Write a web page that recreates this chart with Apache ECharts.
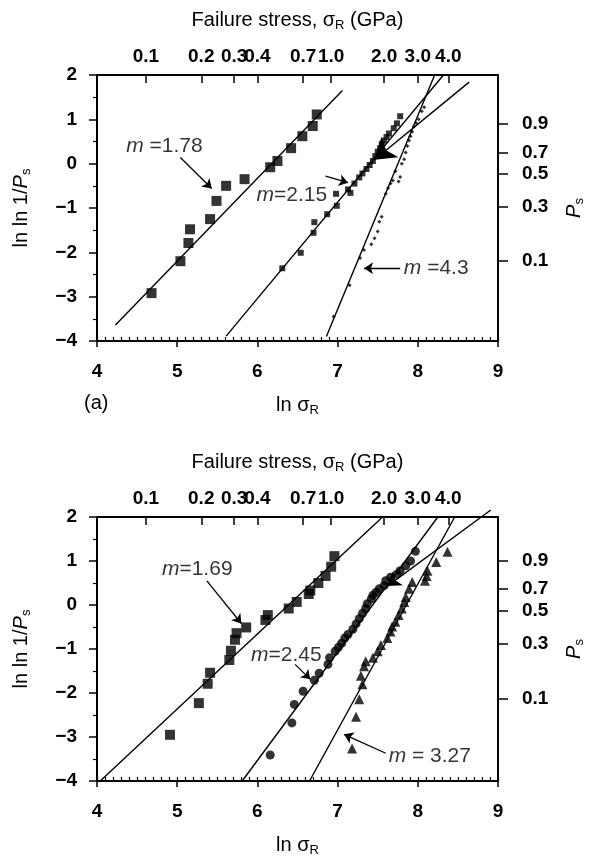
<!DOCTYPE html>
<html><head><meta charset="utf-8">
<script src="https://cdn.jsdelivr.net/npm/echarts@6/dist/echarts.min.js"></script>
<style>html,body{margin:0;padding:0;background:#fff}#c{width:594px;height:858px}</style>
</head><body><div id="c"></div>
<script>
// ---------- tick labels ----------
const xTicks = [4, 5, 6, 7, 8, 9];
const yTicks = [-4, -3, -2, -1, 0, 1, 2];
const gpaTicks = [0.1, 0.2, 0.3, 0.4, 0.7, 1.0, 2.0, 3.0, 4.0];   // GPa
const gpaPos = [4.61, 5.30, 5.71, 6.00, 6.57, 6.92, 7.58, 8.00, 8.38]; // ln σR position of each GPa tick
const psTicks = [0.9, 0.7, 0.5, 0.3, 0.1];
const psPosTop = [0.91, 0.25, -0.23, -0.97, -2.20];   // ln ln 1/Ps position of each Ps tick
const psPosBottom = [1.00, 0.37, -0.14, -0.89, -2.13];

// ---------- panel (a) data ----------
const topSquares = [[4.68,-2.92],[5.04,-2.20],[5.14,-1.79],[5.16,-1.48],[5.41,-1.25],[5.49,-0.84],[5.61,-0.50],[5.84,-0.35],[6.16,-0.08],[6.25,0.06],[6.42,0.35],[6.56,0.62],[6.69,0.85],[6.74,1.11]];
const topSmall = [[6.31,-2.36],[6.54,-2.01],[6.70,-1.56],[6.71,-1.32],[6.87,-1.14],[6.99,-0.95],[6.98,-0.68],[7.13,-0.58],[7.16,-0.66],[7.21,-0.45],[7.27,-0.31],[7.31,-0.22],[7.36,-0.12],[7.40,-0.03],[7.44,0.06],[7.47,0.17],[7.50,0.27],[7.53,0.35],[7.55,0.44],[7.58,0.52],[7.61,0.60],[7.64,0.68],[7.70,0.80],[7.74,0.91],[7.78,1.07]];
const topTiny = [[6.95,-3.45],[7.15,-2.74],[7.28,-2.13],[7.33,-1.95],[7.42,-1.82],[7.46,-1.68],[7.50,-1.53],[7.52,-1.31],[7.55,-1.20],[7.60,-0.68],[7.63,-0.55],[7.66,-0.45],[7.69,-0.38],[7.72,-0.17],[7.76,-0.40],[7.78,-0.30],[7.80,0.00],[7.83,0.10],[7.85,0.25],[7.87,0.40],[7.89,0.52],[7.91,0.62],[7.93,0.72],[7.95,0.83],[7.98,0.92],[8.01,1.00],[8.05,1.18],[8.08,1.27]];
const topFit1 = [[4.23,-3.64],[7.06,1.65]];
const topFit2 = [[5.61,-3.89],[8.32,2.0]];
const topFit3 = [[6.86,-3.90],[8.21,2.0]];
const topArrows = [[[5.04,0.14],[5.43,-0.56]], [[6.85,-0.28],[7.13,-0.43]], [[7.78,-2.36],[7.33,-2.36]]];
const topBigArrow = [[8.64,1.84],[7.46,0.09]];
const topLabelPos = [[4.84,0.40],[6.43,-0.71],[8.23,-2.35]];
const topLabelText = [' =1.78', '=2.15', ' =4.3'];

// ---------- panel (b) data ----------
const botSquares = [[4.91,-2.95],[5.27,-2.23],[5.38,-1.79],[5.41,-1.54],[5.65,-1.25],[5.67,-1.04],[5.72,-0.79],[5.74,-0.64],[5.86,-0.51],[6.10,-0.34],[6.13,-0.23],[6.39,-0.08],[6.49,0.07],[6.64,0.25],[6.66,0.33],[6.76,0.50],[6.85,0.66],[6.92,0.87],[6.96,1.11]];
const botCircles = [[6.16,-3.41],[6.43,-2.68],[6.46,-2.26],[6.57,-1.96],[6.71,-1.71],[6.77,-1.55],[6.88,-1.35],[6.90,-1.20],[6.97,-1.05],[7.01,-0.96],[7.05,-0.87],[7.09,-0.75],[7.13,-0.67],[7.19,-0.55],[7.23,-0.43],[7.27,-0.31],[7.31,-0.19],[7.35,-0.08],[7.37,0.03],[7.42,0.14],[7.44,0.22],[7.48,0.29],[7.52,0.37],[7.58,0.44],[7.60,0.55],[7.66,0.63],[7.74,0.70],[7.78,0.78],[7.85,0.89],[7.91,1.00],[7.97,1.22]];
const botTriangles = [[7.18,-3.26],[7.23,-2.54],[7.27,-2.14],[7.31,-1.80],[7.29,-1.61],[7.33,-1.39],[7.35,-1.28],[7.44,-1.20],[7.50,-1.05],[7.54,-0.91],[7.62,-0.75],[7.66,-0.60],[7.68,-0.49],[7.72,-0.38],[7.76,-0.23],[7.80,-0.08],[7.83,0.07],[7.85,0.18],[7.89,0.37],[7.93,0.52],[8.09,0.55],[8.11,0.66],[8.12,0.78],[8.23,0.98],[8.37,1.21]];
const botFit1 = [[4.04,-4],[7.56,2.0]];
const botFit2 = [[5.81,-4],[8.25,2.0]];
const botFit3 = [[6.65,-4],[8.46,2.0]];
const botArrows = [[[5.37,0.55],[5.80,-0.42]], [[6.47,-1.35],[6.66,-1.69]], [[7.60,-3.37],[7.08,-2.94]]];
const botBigArrow = [[8.91,2.16],[7.62,0.43]];
const botLabelPos = [[5.25,0.81],[6.36,-1.13],[8.15,-3.43]];
const botLabelText = ['=1.69', '=2.45', ' = 3.27'];

// ---------- styling ----------
const FONT = 'Liberation Sans, Arial, sans-serif';
const BLACK = '#000';
const minus = v => (v < 0 ? '\u2212' + Math.abs(v) : String(v));
const tickLbl = { color: BLACK, fontFamily: FONT, fontSize: 19, fontWeight: 'bold' };
const nameRich = {
  t: { fontFamily: FONT, fontSize: 20, color: BLACK, lineHeight: 24 },
  i: { fontFamily: FONT, fontSize: 20, color: BLACK, fontStyle: 'italic', lineHeight: 24 },
  s: { fontFamily: FONT, fontSize: 13, color: BLACK, lineHeight: 13, verticalAlign: 'bottom' }
};
const gridTop = [75, 517];
const gridH = [266, 268];

function nearestLabel(pos, ticks) {
  return v => { let k = 0; pos.forEach((p, i) => { if (Math.abs(p - v) < Math.abs(pos[k] - v)) k = i; }); return ticks[k].toFixed(1); };
}

function axesFor(g, psPos) {
  const xs = [
    { gridIndex: g, type: 'value', position: 'bottom', min: 4, max: 9, interval: 1,
      axisLine: { show: true, onZero: false, lineStyle: { color: BLACK, width: 2 } },
      axisTick: { show: true, inside: false, length: 6, lineStyle: { color: BLACK, width: 1.5 } },
      axisLabel: Object.assign({ margin: 21, formatter: v => String(v) }, tickLbl),
      splitLine: { show: false },
      name: '{t|ln σ}{s|R}', nameLocation: 'middle', nameGap: 52,
      nameTextStyle: { rich: nameRich } },
    { gridIndex: g, type: 'value', position: 'bottom', min: 4, max: 9, interval: 0.1,
      axisLine: { show: false, onZero: false }, axisLabel: { show: false }, splitLine: { show: false },
      axisTick: { show: true, inside: true, length: 4, lineStyle: { color: BLACK, width: 1.2 } } },
    { gridIndex: g, type: 'value', position: 'top', min: 4, max: 9,
      axisLine: { show: true, onZero: false, lineStyle: { color: BLACK, width: 2 } },
      axisTick: { show: true, inside: true, length: 8, customValues: gpaPos, lineStyle: { color: BLACK, width: 1.5 } },
      axisLabel: Object.assign({ margin: 9, customValues: gpaPos, showMinLabel: true, showMaxLabel: true, hideOverlap: false,
        formatter: nearestLabel(gpaPos, gpaTicks) }, tickLbl),
      splitLine: { show: false },
      name: '{t|Failure stress, σ}{s|R}{t| (GPa)}', nameLocation: 'middle', nameGap: 43,
      nameTextStyle: { rich: nameRich } }
  ];
  const ys = [
    { gridIndex: g, type: 'value', position: 'left', min: -4, max: 2, interval: 1,
      axisLine: { show: true, onZero: false, lineStyle: { color: BLACK, width: 2 } },
      axisTick: { show: true, inside: false, length: 8, lineStyle: { color: BLACK, width: 1.5 } },
      minorTick: { show: true, splitNumber: 2, length: 4, lineStyle: { color: BLACK, width: 1.2 } },
      axisLabel: Object.assign({ margin: 20, formatter: minus }, tickLbl),
      splitLine: { show: false },
      name: '{t|ln ln 1/}{i|P}{s|s}', nameLocation: 'middle', nameGap: 64, nameRotate: 90,
      nameTextStyle: { rich: nameRich } },
    { gridIndex: g, type: 'value', position: 'right', min: -4, max: 2,
      axisLine: { show: true, onZero: false, lineStyle: { color: BLACK, width: 2 } },
      axisTick: { show: true, inside: false, length: 10, customValues: psPos, lineStyle: { color: BLACK, width: 1.5 } },
      axisLabel: Object.assign({ margin: 24, customValues: psPos, showMinLabel: true, showMaxLabel: true,
        formatter: nearestLabel(psPos, psTicks) }, tickLbl),
      splitLine: { show: false },
      name: '{i|P}{s|s}', nameLocation: 'middle', nameGap: 64, nameRotate: 90,
      nameTextStyle: { rich: nameRich } }
  ];
  return { xs, ys };
}

const a0 = axesFor(0, psPosTop);
const a1 = axesFor(1, psPosBottom);

function scatter(xi, yi, data, symbol, size) {
  return { type: 'scatter', xAxisIndex: xi, yAxisIndex: yi, data, symbol, symbolSize: size,
    itemStyle: { color: BLACK }, z: 5, silent: true };
}
function fit(xi, yi, data) {
  return { type: 'line', xAxisIndex: xi, yAxisIndex: yi, data, showSymbol: false, symbol: 'none',
    lineStyle: { color: BLACK, width: 1.4 }, z: 4, silent: true, clip: false };
}
function arrows(xi, yi, list, size, width) {
  return { type: 'lines', coordinateSystem: 'cartesian2d', xAxisIndex: xi, yAxisIndex: yi,
    data: list.map(c => ({ coords: c })), symbol: ['none', 'arrow'], symbolSize: size,
    lineStyle: { color: BLACK, width: width, opacity: 1, curveness: 0 }, z: 6, silent: true, clip: false };
}
function labels(xi, yi, pos, txt) {
  return { type: 'scatter', xAxisIndex: xi, yAxisIndex: yi, symbolSize: 1,
    itemStyle: { color: 'rgba(0,0,0,0)' }, z: 7, silent: true,
    data: pos.map((p, i) => ({ value: p, name: txt[i] })),
    label: { show: true, position: 'inside', formatter: p => '{m|m}{t|' + p.name + '}',
      rich: { m: { fontFamily: FONT, fontSize: 21, fontStyle: 'italic', color: BLACK },
              t: { fontFamily: FONT, fontSize: 21, color: BLACK } } } };
}

const option = {
  animation: false,
  backgroundColor: '#fff',
  grid: [
    { left: 97, width: 407, top: gridTop[0], height: gridH[0] },
    { left: 97, width: 407, top: gridTop[1], height: gridH[1] }
  ],
  xAxis: a0.xs.concat(a1.xs),
  yAxis: a0.ys.concat(a1.ys),
  graphic: [
    { type: 'text', left: 84, top: 393, style: { text: '(a)', font: '20px ' + FONT, fill: BLACK } }
  ],
  series: [
    fit(0, 0, topFit1), fit(0, 0, topFit2), fit(0, 0, topFit3),
    scatter(0, 0, topSquares, 'rect', 10),
    scatter(0, 0, topSmall, 'rect', 6),
    scatter(0, 0, topTiny, 'diamond', 4),
    arrows(0, 0, topArrows, 9, 1.3),
    arrows(0, 0, [topBigArrow], 20, 1.4),
    labels(0, 0, topLabelPos, topLabelText),

    fit(3, 2, botFit1), fit(3, 2, botFit2), fit(3, 2, botFit3),
    scatter(3, 2, botSquares, 'rect', 10),
    scatter(3, 2, botCircles, 'circle', 9),
    scatter(3, 2, botTriangles, 'triangle', 10),
    arrows(3, 2, botArrows, 9, 1.3),
    arrows(3, 2, [botBigArrow], 13, 1.4),
    labels(3, 2, botLabelPos, botLabelText)
  ]
};
const chart = echarts.init(document.getElementById('c'), null, { renderer: 'canvas' });
chart.setOption(option);
</script></body></html>
